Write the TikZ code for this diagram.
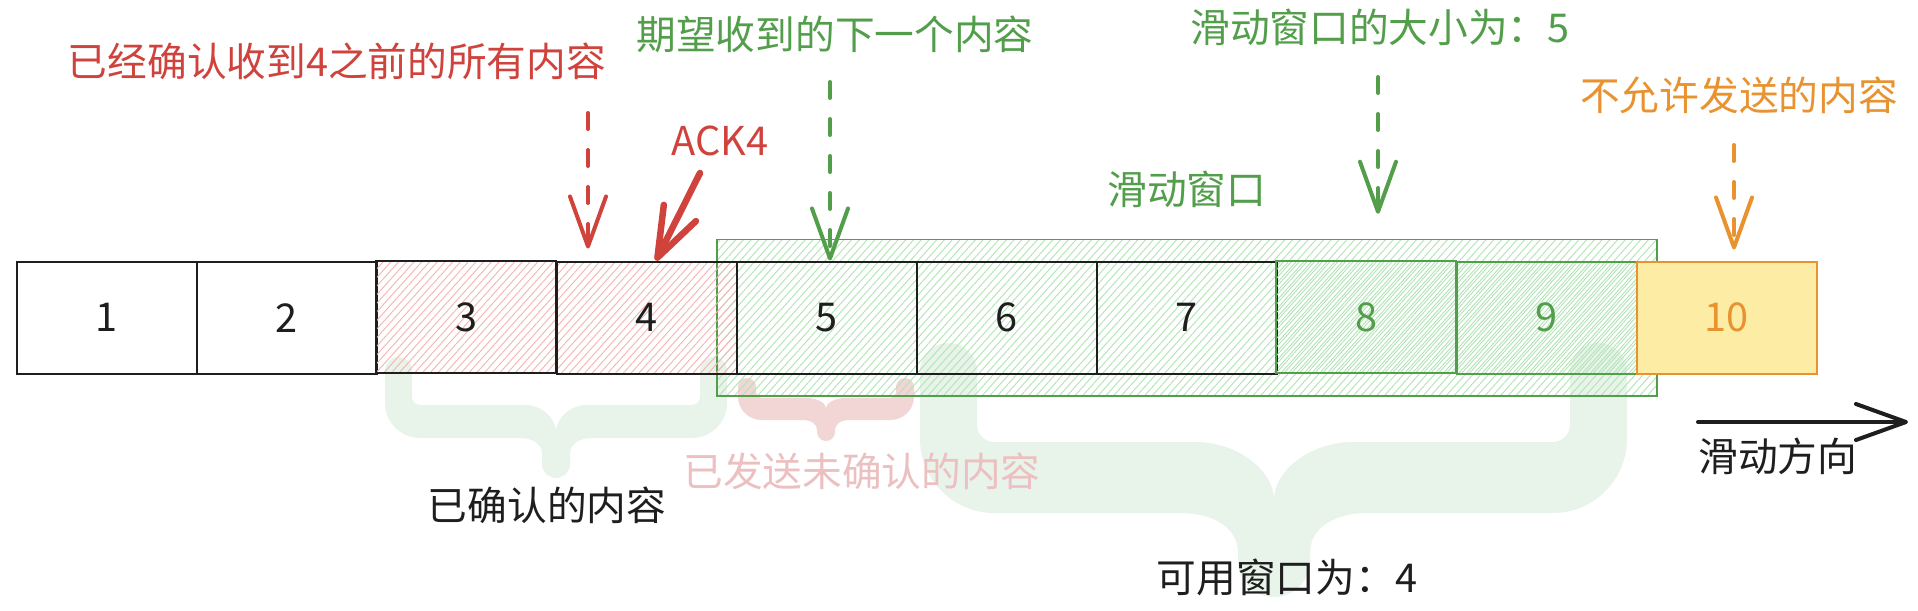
\documentclass[tikz,border=0pt]{standalone}
\usepackage{fontspec}
\setmainfont{Noto Sans CJK SC}
\usetikzlibrary{arrows.meta,positioning,fit,backgrounds,patterns.meta}

\definecolor{ink}{RGB}{30,30,30}
\definecolor{ackred}{RGB}{208,66,60}
\definecolor{wingreen}{RGB}{82,158,74}
\definecolor{denyorange}{RGB}{232,146,48}
\definecolor{denyyellow}{RGB}{252,236,164}
\definecolor{hatchred}{RGB}{244,180,180}
\definecolor{hatchgreen}{RGB}{176,228,180}
\definecolor{bracegreen}{RGB}{232,243,234}
\definecolor{bracered}{RGB}{242,213,213}
\definecolor{fadedred}{RGB}{236,192,192}

\begin{document}
\begin{tikzpicture}[
    x=0.02cm, y=-0.02cm,
    font=\fontsize{22.6pt}{27pt}\selectfont,
    cell/.style={rectangle, draw=ink, line width=0.04cm, minimum width=3.6cm, minimum height=2.25cm, inner sep=0pt, anchor=north west, text=ink},
    cell-plain/.style={},
    cell-acked/.style={pattern={Lines[angle=48, distance=0.115cm, line width=0.018cm]}, pattern color=hatchred},
    cell-usable/.style={draw=wingreen, text=wingreen, pattern={Lines[angle=48, distance=0.115cm, line width=0.018cm, xshift=0.06cm]}, pattern color=hatchgreen},
    cell-blocked/.style={draw=denyorange, text=denyorange, fill=denyyellow},
    window/.style={rectangle, draw=wingreen, line width=0.03cm, pattern={Lines[angle=48, distance=0.115cm, line width=0.018cm]}, pattern color=hatchgreen, inner xsep=0.38cm, inner ysep=0.42cm},
    note/.style={inner sep=0pt},
    dash-arrow/.style={line width=0.08cm, line cap=round, dash pattern=on 0.32cm off 0.42cm, -{Straight Barb[length=1cm, width=0.72cm, round]}},
    solid-arrow/.style={line width=0.13cm, line cap=round, -{Straight Barb[length=1cm, width=0.72cm, round]}}
]
\useasboundingbox (0,0) rectangle (1918,610);

% Sequence cells
\foreach \i/\kind in {1/cell-plain, 2/cell-plain, 3/cell-acked, 4/cell-acked, 5/cell-plain,
                      6/cell-plain, 7/cell-plain, 8/cell-usable, 9/cell-usable, 10/cell-blocked} {
    \node[cell, \kind] (b\i) at ({16+180*(\i-1)}, 260.5) {\i};
}

% Labels above the cells
\node[note, text=ackred] (confirm-note) at (337,61) {已经确认收到4之前的所有内容};
\node[note, text=wingreen] (expect-note) at (835,34) {期望收到的下一个内容};
\node[note, text=wingreen] (size-note) at (1380,27) {滑动窗口的大小为：5};
\node[note, text=denyorange] (deny-note) at (1739,95) {不允许发送的内容};
\node[note, text=ackred] (ack-note) at (720,141) {ACK4};

% Pointers
\coordinate (confirm-tail) at (588,113);
\coordinate (expect-tail) at (830,82);
\coordinate (size-tail) at (1378,77);
\coordinate (deny-tail) at (1734,145);
\coordinate (ack-tail) at (700,173);
\coordinate (confirm-tip) at (confirm-tail |- b4.north);
\coordinate (expect-tip) at (expect-tail |- b5.north);
\coordinate (deny-tip) at (deny-tail |- b10.north);

\draw[dash-arrow, ackred] (confirm-tail) -- ([yshift=0.24cm]confirm-tip);
\draw[dash-arrow, wingreen] (expect-tail) -- (expect-tip);
\draw[dash-arrow, denyorange] (deny-tail) -- ([yshift=0.22cm]deny-tip);
\draw[solid-arrow, ackred] (ack-tail) -- ([xshift=0.18cm]b4.north);

% Background: braces and window
\begin{scope}[on background layer]
    \fill[white] (0,0) rectangle (1918,610);
    \foreach \lx/\rx/\ty/\aw/\bt/\bb/\mx/\cy/\sw/\py/\col in {
        385/727/357/27/405/438/556/432/14/478/bracegreen,
        738/914/378/18/398/420/826/408/9/441/bracered,
        920/1627/343/57/442/513/1274/500/36/597/bracegreen} {
        \pgfmathsetmacro\ri{0.3*\aw}
        \pgfmathsetmacro\ro{1.3*\aw}
        \pgfmathsetmacro\kc{2.2*\sw}
        \pgfmathsetmacro\kf{1.6*\sw}
        \pgfmathsetmacro\hf{1.1*\sw}
        \fill[\col] (\lx, {\ty+\aw/2}) arc[start angle=180, end angle=360, radius=\aw/2]
            -- ({\lx+\aw}, {\bt-\ri})
            .. controls ({\lx+\aw}, {\bt-0.45*\ri}) and ({\lx+\aw+0.45*\ri}, \bt) .. ({\lx+\aw+\ri}, \bt)
            -- ({\mx-\kc}, \bt)
            .. controls ({\mx-0.45*\kc}, \bt) and (\mx, {\bt+0.5*(\cy-\bt)}) .. (\mx, \cy)
            .. controls (\mx, {\bt+0.5*(\cy-\bt)}) and ({\mx+0.45*\kc}, \bt) .. ({\mx+\kc}, \bt)
            -- ({\rx-\aw-\ri}, \bt)
            .. controls ({\rx-\aw-0.45*\ri}, \bt) and ({\rx-\aw}, {\bt-0.45*\ri}) .. ({\rx-\aw}, {\bt-\ri})
            -- ({\rx-\aw}, {\ty+\aw/2}) arc[start angle=180, end angle=360, radius=\aw/2]
            -- (\rx, {\bb-\ro})
            .. controls (\rx, {\bb-0.45*\ro}) and ({\rx-0.45*\ro}, \bb) .. ({\rx-\ro}, \bb)
            -- ({\mx+\sw+\kf}, \bb)
            .. controls ({\mx+\sw+0.4*\kf}, \bb) and ({\mx+\sw}, {\bb+0.4*\hf}) .. ({\mx+\sw}, {\bb+\hf})
            -- ({\mx+\sw}, {\py-\sw}) arc[start angle=0, end angle=180, radius=\sw]
            -- ({\mx-\sw}, {\bb+\hf})
            .. controls ({\mx-\sw}, {\bb+0.4*\hf}) and ({\mx-\sw-0.4*\kf}, \bb) .. ({\mx-\sw-\kf}, \bb)
            -- ({\lx+\ro}, \bb)
            .. controls ({\lx+0.45*\ro}, \bb) and (\lx, {\bb-0.45*\ro}) .. (\lx, {\bb-\ro})
            -- cycle;
    }
    \node[window, fit=(b5)(b9)] (win) {};
\end{scope}
\node[note, text=wingreen, above=0.62cm of win] (win-note) {滑动窗口};

\coordinate (size-tip) at (size-tail |- win.north);
\draw[dash-arrow, wingreen] (size-tail) -- ([yshift=0.5cm]size-tip);

% Labels under the cells
\node[note, text=ink] (acked-note) at (547,505) {已确认的内容};
\node[note, text=fadedred] (sent-note) at (862,471) {已发送未确认的内容};
\node[note, text=ink] (avail-note) at (1287,577) {可用窗口为：4};

% Sliding direction
\coordinate (slide-tail) at (1698,422);
\coordinate (slide-tip) at (1908,422);
\draw[solid-arrow, ink, line width=0.08cm] (slide-tail) -- (slide-tip);
\node[note, text=ink, below right=0.32cm and 0cm of slide-tail] (slide-note) {滑动方向};

\end{tikzpicture}
\end{document}
